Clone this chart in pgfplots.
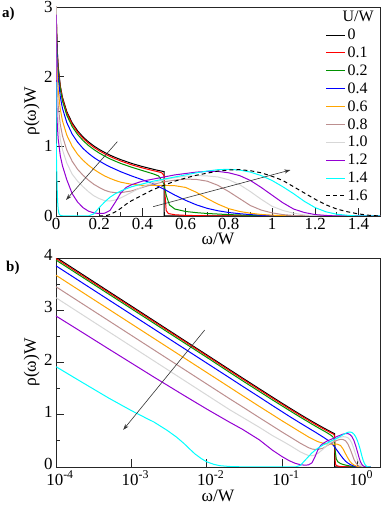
\documentclass[border=0pt]{standalone}
\usepackage{fontspec}
\setmainfont{Liberation Serif}
\usepackage{pgfplots}
\usepackage{pgfplotstable}
\pgfplotsset{compat=1.18}
\usetikzlibrary{arrows.meta}
\definecolor{cgreen}{RGB}{0,145,0}
\definecolor{corange}{RGB}{255,165,0}
\definecolor{cbrown}{RGB}{188,143,143}
\definecolor{cgray}{RGB}{215,215,215}
\definecolor{cviolet}{RGB}{148,0,211}
\definecolor{ccyan}{RGB}{0,255,255}

\pgfplotstableread{
w r
1e-4 4.014
2e-4 3.733
5e-4 3.361
1e-3 3.081
2e-3 2.800
5e-3 2.428
0.01 2.148
0.02 1.867
0.03 1.703
0.05 1.498
0.075 1.336
0.1 1.222
0.125 1.135
0.15 1.065
0.175 1.006
0.2 0.956
0.225 0.913
0.25 0.874
0.275 0.840
0.3 0.809
0.35 0.755
0.4 0.710
0.45 0.671
0.475 0.653
0.5 0.637
0.5 0
1.5 0
}\tUa

\pgfplotstableread{
w r
1e-4 3.99
2e-4 3.71
5e-4 3.34
1e-3 3.06
2e-3 2.78
5e-3 2.41
0.01 2.13
0.02 1.847
0.03 1.683
0.05 1.478
0.075 1.316
0.1 1.202
0.125 1.115
0.15 1.045
0.175 0.986
0.2 0.936
0.225 0.893
0.25 0.854
0.275 0.82
0.3 0.789
0.35 0.735
0.4 0.69
0.45 0.651
0.475 0.633
0.49 0.62
0.5 0.58
0.505 0.30
0.51 0.08
0.52 0.035
0.55 0.018
0.6 0.009
0.7 0.003
0.8 0
1.5 0
}\tUb

\pgfplotstableread{
w r
1e-4 3.96
2e-4 3.68
5e-4 3.31
1e-3 3.03
2e-3 2.75
5e-3 2.38
0.01 2.10
0.02 1.815
0.03 1.65
0.05 1.445
0.075 1.283
0.1 1.17
0.125 1.083
0.15 1.013
0.175 0.954
0.2 0.904
0.225 0.86
0.25 0.82
0.275 0.786
0.3 0.754
0.35 0.70
0.4 0.652
0.45 0.605
0.475 0.575
0.5 0.46
0.51 0.30
0.525 0.16
0.55 0.10
0.6 0.065
0.65 0.048
0.7 0.036
0.8 0.02
0.9 0.01
1.0 0.003
1.05 0
1.5 0
}\tUc

\pgfplotstableread{
w r
1e-4 3.85
2e-4 3.57
5e-4 3.20
1e-3 2.92
2e-3 2.64
5e-3 2.27
0.01 1.99
0.02 1.71
0.03 1.545
0.05 1.34
0.075 1.175
0.1 1.06
0.125 0.97
0.15 0.90
0.175 0.84
0.2 0.79
0.225 0.745
0.25 0.705
0.275 0.67
0.3 0.635
0.35 0.575
0.4 0.52
0.45 0.46
0.5 0.385
0.55 0.30
0.6 0.225
0.65 0.16
0.7 0.11
0.75 0.075
0.8 0.05
0.85 0.033
0.9 0.02
0.95 0.01
1.0 0.005
1.05 0
1.5 0
}\tUd

\pgfplotstableread{
w r
1e-4 3.67
2e-4 3.39
5e-4 3.02
1e-3 2.74
2e-3 2.46
5e-3 2.09
0.01 1.81
0.02 1.53
0.03 1.365
0.05 1.16
0.075 1.0
0.1 0.885
0.125 0.80
0.15 0.73
0.175 0.67
0.2 0.62
0.225 0.575
0.25 0.54
0.275 0.51
0.3 0.485
0.35 0.455
0.4 0.44
0.45 0.44
0.5 0.44
0.55 0.435
0.6 0.41
0.65 0.34
0.7 0.25
0.75 0.17
0.8 0.105
0.85 0.065
0.9 0.04
0.95 0.022
1.0 0.012
1.05 0.005
1.1 0
1.5 0
}\tUe

\pgfplotstableread{
w r
1e-4 3.45
2e-4 3.17
5e-4 2.80
1e-3 2.52
2e-3 2.24
5e-3 1.87
0.01 1.59
0.02 1.31
0.03 1.15
0.05 0.945
0.075 0.785
0.1 0.67
0.125 0.585
0.15 0.515
0.175 0.455
0.2 0.41
0.225 0.37
0.25 0.345
0.275 0.335
0.3 0.335
0.35 0.36
0.4 0.41
0.45 0.455
0.5 0.49
0.55 0.515
0.6 0.53
0.65 0.525
0.7 0.50
0.75 0.44
0.8 0.35
0.85 0.25
0.9 0.15
0.95 0.085
1.0 0.045
1.05 0.02
1.1 0.008
1.15 0
1.5 0
}\tUf

\pgfplotstableread{
w r
1e-4 3.24
2e-4 2.96
5e-4 2.59
1e-3 2.31
2e-3 2.03
5e-3 1.66
0.01 1.38
0.02 1.10
0.03 0.95
0.05 0.76
0.075 0.60
0.1 0.50
0.125 0.42
0.15 0.35
0.175 0.29
0.2 0.25
0.225 0.22
0.25 0.215
0.275 0.23
0.3 0.26
0.35 0.34
0.4 0.42
0.45 0.48
0.5 0.52
0.55 0.55
0.6 0.57
0.65 0.58
0.7 0.575
0.75 0.56
0.8 0.52
0.85 0.45
0.9 0.35
0.95 0.24
1.0 0.14
1.05 0.08
1.1 0.04
1.15 0.015
1.2 0.005
1.25 0
1.5 0
}\tUg

\pgfplotstableread{
w r
1e-4 2.89
2e-4 2.62
5e-4 2.26
1e-3 1.99
2e-3 1.72
5e-3 1.37
0.01 1.11
0.02 0.86
0.03 0.72
0.05 0.52
0.075 0.32
0.1 0.20
0.125 0.12
0.15 0.07
0.175 0.045
0.2 0.035
0.225 0.04
0.25 0.08
0.275 0.20
0.3 0.33
0.325 0.41
0.35 0.45
0.4 0.50
0.45 0.53
0.5 0.56
0.55 0.59
0.6 0.61
0.65 0.63
0.7 0.64
0.75 0.64
0.8 0.62
0.85 0.58
0.9 0.51
0.95 0.41
1.0 0.30
1.05 0.19
1.1 0.10
1.15 0.05
1.2 0.02
1.25 0.008
1.3 0
1.5 0
}\tUh

\pgfplotstableread{
w r
1e-4 1.92
2e-4 1.66
5e-4 1.32
1e-3 1.08
1.5e-3 0.95
2e-3 0.86
3e-3 0.70
4e-3 0.57
5e-3 0.45
6e-3 0.34
7e-3 0.25
8.5e-3 0.16
0.01 0.10
0.0125 0.05
0.015 0.025
0.02 0.01
0.03 0.003
0.05 0
0.15 0
0.175 0.03
0.2 0.12
0.225 0.20
0.25 0.27
0.275 0.32
0.3 0.36
0.35 0.42
0.4 0.46
0.45 0.50
0.5 0.53
0.55 0.56
0.6 0.59
0.65 0.62
0.7 0.645
0.75 0.665
0.8 0.67
0.85 0.66
0.9 0.63
0.95 0.58
1.0 0.51
1.05 0.42
1.1 0.32
1.15 0.21
1.2 0.12
1.25 0.06
1.3 0.025
1.35 0.01
1.4 0
1.5 0
}\tUi

\pgfplotstableread{
w r
0.2 0
0.225 0.0
0.25 0.02
0.275 0.06
0.3 0.11
0.325 0.17
0.35 0.22
0.4 0.30
0.45 0.38
0.5 0.44
0.55 0.50
0.6 0.545
0.65 0.585
0.7 0.615
0.75 0.645
0.8 0.66
0.85 0.665
0.9 0.65
0.95 0.62
1.0 0.57
1.05 0.51
1.1 0.42
1.15 0.33
1.2 0.24
1.25 0.16
1.3 0.10
1.35 0.06
1.4 0.03
1.45 0.01
1.5 0
}\tUj

\pgfplotsset{myax/.style={
  scale only axis, width=324bp, height=209bp,
  axis line style={line width=0.8bp, black!85},
  every tick/.style={black!85, line width=0.8bp},
  major tick length=8bp, minor tick length=4bp,
  tick align=inside, xtick pos=left, ytick pos=left,
  ticklabel style={font=\fontsize{17}{17}\selectfont},
  label style={font=\fontsize{17.5}{17.5}\selectfont},
  /pgf/number format/assume math mode=true,
  every axis plot/.append style={line width=1bp},
  ylabel={ρ(ω)W}, xlabel={ω/W},
  ymin=0,
  ylabel style={at={(axis description cs:-0.075,0.5)}, anchor=center},
}}

\begin{document}
\begin{tikzpicture}
\path[use as bounding box] (0,0) rectangle (382bp,511bp);
\node[anchor=north west, inner sep=0pt, font=\bfseries\fontsize{15}{15}\selectfont] at (2bp,504bp) {a)};
\node[anchor=north west, inner sep=0pt, font=\bfseries\fontsize{15}{15}\selectfont] at (6bp,250bp) {b)};

\begin{axis}[myax, at={(56bp,295bp)}, anchor=south west,
  xmin=0, xmax=1.5, ymax=3,
  xtick={0,0.2,0.4,0.6,0.8,1,1.2,1.4}, ytick={0,1,2,3},
  minor x tick num=1, minor y tick num=1,
  xlabel style={yshift=3bp},
  xticklabel style={yshift=1.5bp},
  legend style={draw=none, fill=none, at={(axis description cs:0.981,0.981)}, anchor=north east,
    font=\fontsize{16}{16}\selectfont, row sep=5.8bp, column sep=2bp, inner sep=0pt,
    nodes={inner sep=0pt}},
  legend cell align=left,
  legend image code/.code={\draw[#1] (0bp,0bp) -- (19bp,0bp);},
]
\addlegendimage{empty legend}\addlegendentry{\hspace*{-5bp}U/W}
\addplot[black] table[x=w,y=r]{\tUa};\addlegendentry{0}
\addplot[red] table[x=w,y=r]{\tUb};\addlegendentry{0.1}
\addplot[cgreen] table[x=w,y=r]{\tUc};\addlegendentry{0.2}
\addplot[blue] table[x=w,y=r]{\tUd};\addlegendentry{0.4}
\addplot[corange] table[x=w,y=r]{\tUe};\addlegendentry{0.6}
\addplot[cbrown] table[x=w,y=r]{\tUf};\addlegendentry{0.8}
\addplot[cgray] table[x=w,y=r]{\tUg};\addlegendentry{1.0}
\addplot[cviolet] table[x=w,y=r]{\tUh};\addlegendentry{1.2}
\addplot[ccyan] table[x=w,y=r]{\tUi};\addlegendentry{1.4}
\addplot[black, dash pattern=on 4bp off 3bp] table[x=w,y=r]{\tUj};\addlegendentry{1.6}
\draw[-{Stealth[length=6bp,width=4bp]}, line width=0.6bp, black!80] (axis cs:0.284,1.067) -- (axis cs:0.0465,0.23);
\draw[-{Stealth[length=6bp,width=4bp]}, line width=0.6bp, black!80] (axis cs:0.45,0.134) -- (axis cs:1.085,0.66);
\end{axis}

\begin{axis}[myax, at={(56bp,44bp)}, anchor=south west,
  xmode=log, xmin=1e-4, xmax=2, ymax=4,
  xtick={1e-4,1e-3,1e-2,1e-1,1},
  xticklabels={10\textsuperscript{-4},10\textsuperscript{-3},10\textsuperscript{-2},10\textsuperscript{-1},10\textsuperscript{0}},
  xminorticks=false,
  ytick={0,1,2,3,4}, minor y tick num=1,
  yticklabel style={yshift=3bp},
  xticklabel style={yshift=-0.5bp, xshift=4bp},
  xlabel style={yshift=2bp},
]
\addplot[black] table[x=w,y=r]{\tUa};
\addplot[red] table[x=w,y=r]{\tUb};
\addplot[cgreen] table[x=w,y=r]{\tUc};
\addplot[blue] table[x=w,y=r]{\tUd};
\addplot[corange] table[x=w,y=r]{\tUe};
\addplot[cbrown] table[x=w,y=r]{\tUf};
\addplot[cgray] table[x=w,y=r]{\tUg};
\addplot[cviolet] table[x=w,y=r]{\tUh};
\addplot[ccyan] table[x=w,y=r]{\tUi};
\draw[-{Stealth[length=6bp,width=4bp]}, line width=0.6bp, black!80] (axis cs:0.0094,2.62) -- (axis cs:7.8e-4,0.71);
\end{axis}
\end{tikzpicture}
\end{document}
